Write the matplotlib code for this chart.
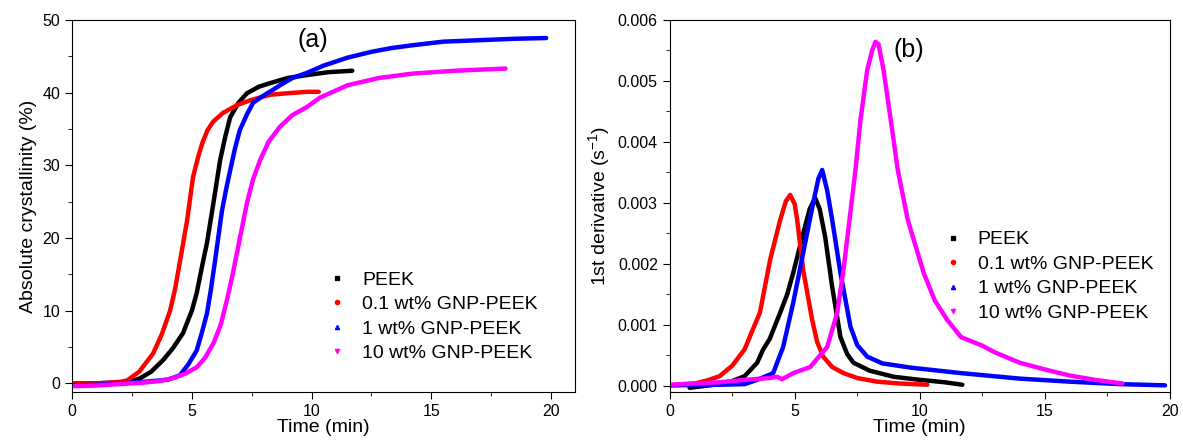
import numpy as np
import matplotlib.pyplot as plt
from matplotlib.lines import Line2D
from matplotlib.ticker import MultipleLocator

plt.rcParams['font.family'] = ['Liberation Sans', 'DejaVu Sans']
plt.rcParams['mathtext.default'] = 'regular'

labels = ['PEEK', '0.1 wt% GNP-PEEK', '1 wt% GNP-PEEK', '10 wt% GNP-PEEK']
colors = ['black', 'red', 'blue', 'magenta']
markers = ['s', 'o', '^', 'v']

# (a) absolute crystallinity (%)
t_peek = [0, 1, 2, 2.5, 2.84, 3.3, 3.8, 4.2, 4.63, 5.0, 5.2, 5.42, 5.63, 5.9, 6.18, 6.4, 6.6, 6.95,
          7.3, 7.8, 8.27, 9.0, 9.8, 10.7, 11.7]
c_peek = [0, 0, 0.1, 0.3, 0.7, 1.6, 3.2, 4.8, 6.9, 10, 12.4, 16, 19.3, 24.8, 30.7, 34, 36.6, 38.6,
          39.9, 40.8, 41.3, 42, 42.4, 42.8, 43]
t_01 = [0, 1, 1.5, 2, 2.3, 2.8, 3.38, 3.75, 4.09, 4.3, 4.51, 4.8, 5.05, 5.25, 5.43, 5.65, 5.89, 6.3,
        6.9, 7.5, 8.27, 9.0, 9.8, 10.3]
c_01 = [0, 0, 0.1, 0.2, 0.4, 1.6, 4.1, 6.8, 10, 13, 16.9, 22.4, 28.4, 31, 33, 34.8, 36, 37.2,
        38.3, 39, 39.7, 39.9, 40.1, 40.1]
t_1 = [0, 1, 2, 3, 4, 4.5, 4.85, 5.2, 5.42, 5.63, 5.8, 5.97, 6.1, 6.26, 6.45, 6.6, 6.8, 7.0, 7.3,
       7.56, 8.0, 8.4, 8.68, 9.2, 9.8, 10.5, 11.5, 12.5, 13.3, 14.2, 15.5, 17, 18.5, 19.8]
c_1 = [-0.3, -0.2, 0, 0.2, 0.5, 1.1, 2.6, 4.5, 7, 9.6, 13, 16.9, 20, 23.8, 27, 29.3, 32.3, 34.8, 37,
       38.6, 39.6, 40.4, 41, 42, 42.7, 43.7, 44.8, 45.6, 46.1, 46.5, 47, 47.2, 47.4, 47.5]
t_10 = [0, 1, 2, 3, 3.6, 4.2, 4.7, 5.2, 5.55, 5.9, 6.2, 6.46, 6.68, 6.88, 7.1, 7.3, 7.55, 7.85,
        8.2, 8.68, 9.2, 9.8, 10.35, 11.5, 12.8, 14.2, 16, 18.1]
c_10 = [-0.4, -0.3, -0.1, 0.1, 0.3, 0.7, 1.3, 2.2, 3.5, 5.5, 8, 11.4, 14.6, 17.9, 21.5, 24.8, 28,
        30.7, 33.2, 35.3, 36.9, 38, 39.3, 41.0, 42.0, 42.6, 43, 43.3]

# (b) first derivative (1/s)
d_t_peek = [0.8, 2, 2.5, 3, 3.5, 3.73, 4.0, 4.42, 4.7, 4.94, 5.34, 5.6, 5.82, 6.0, 6.22, 6.5,
            6.83, 7.1, 7.35, 8.0, 8.96, 10, 11, 11.7]
d_peek = [-0.00003, 0.00003, 0.00008, 0.00016, 0.00038, 0.00059, 0.00077, 0.0012, 0.0015,
          0.00185, 0.0025, 0.0029, 0.00308, 0.0029, 0.00244, 0.00162, 0.0008, 0.00052, 0.00038,
          0.00025, 0.00015, 0.0001, 0.00006, 0.00002]
d_t_01 = [0, 1, 1.5, 2, 2.5, 3, 3.3, 3.61, 4.02, 4.42, 4.65, 4.82, 5.0, 5.1, 5.34, 5.7, 5.9, 6.14,
          6.5, 6.95, 7.5, 8.3, 9.2, 10.3]
d_01 = [0.00001, 0.00004, 0.00009, 0.00016, 0.00033, 0.0006, 0.0009, 0.0012, 0.00207, 0.00272,
        0.00303, 0.00313, 0.00298, 0.00272, 0.0019, 0.00108, 0.00072, 0.00048, 0.00031, 0.00021,
        0.00013, 0.00007, 0.00004, 0.00002]
d_t_1 = [0, 2, 3, 3.5, 4.14, 4.54, 4.94, 5.34, 5.74, 5.95, 6.1, 6.3, 6.5, 6.83, 7.23, 7.5, 7.9,
         8.5, 9.64, 11.65, 14, 16, 18, 19.8]
d_1 = [0.00001, 0.00002, 0.00003, 0.0001, 0.00021, 0.00064, 0.00136, 0.00218, 0.003, 0.0034,
       0.00354, 0.0032, 0.00272, 0.00185, 0.00097, 0.00067, 0.00048, 0.00037, 0.0003, 0.00021,
       0.00012, 0.00007, 0.00003, 0.00001]
d_t_10 = [0, 2, 3, 4, 4.3, 4.5, 4.94, 5.62, 6.3, 6.7, 6.95, 7.19, 7.43, 7.63, 7.9, 8.1, 8.23, 8.35,
          8.55, 8.84, 9.12, 9.52, 10.16, 10.6, 11.1, 11.65, 12.5, 13, 14, 15, 16, 17, 18.1]
d_10 = [0.00002, 0.00006, 0.0001, 0.00013, 0.00015, 0.00011, 0.00021, 0.00031, 0.00064, 0.0012,
        0.0019, 0.00272, 0.00354, 0.00436, 0.00518, 0.0055, 0.00564, 0.0056, 0.00518, 0.00436,
        0.00354, 0.00272, 0.00185, 0.0014, 0.00108, 0.0008, 0.00066, 0.00055, 0.00038, 0.00027,
        0.00017, 0.0001, 0.00004]

fig = plt.figure(figsize=(11.83, 4.41), dpi=100)
ax1 = fig.add_axes([0.061, 0.111, 0.425, 0.844])
ax2 = fig.add_axes([0.566, 0.111, 0.423, 0.844])


def style(ax):
    ax.tick_params(which='both', direction='out', top=False, right=False, labelsize=11.5)
    ax.tick_params(which='major', length=5)
    ax.tick_params(which='minor', length=3)
    ax.xaxis.set_major_locator(MultipleLocator(5))
    ax.xaxis.set_minor_locator(MultipleLocator(2.5))
    ax.set_xlabel('Time (min)', fontsize=14, labelpad=0)


series_a = [(t_peek, c_peek), (t_01, c_01), (t_1, c_1), (t_10, c_10)]
for (x, y), c in zip(series_a, colors):
    ax1.plot(x, y, color=c, lw=3.2, solid_capstyle='round', solid_joinstyle='round')
ax1.set_xlim(0, 21)
ax1.set_ylim(-1.2, 50)
ax1.yaxis.set_major_locator(MultipleLocator(10))
ax1.yaxis.set_minor_locator(MultipleLocator(5))
ax1.set_ylabel('Absolute crystallinity (%)', fontsize=14, labelpad=4)
style(ax1)
ax1.text(10.06, 47.2, '(a)', fontsize=18, ha='center', va='center')

series_b = [(d_t_peek, d_peek), (d_t_01, d_01), (d_t_1, d_1), (d_t_10, d_10)]
for (x, y), c in zip(series_b, colors):
    ax2.plot(x, y, color=c, lw=3.2, solid_capstyle='round', solid_joinstyle='round')
ax2.set_xlim(0, 20)
ax2.set_ylim(-0.0001, 0.006)
ax2.yaxis.set_major_locator(MultipleLocator(0.001))
ax2.yaxis.set_minor_locator(MultipleLocator(0.0005))
ax2.yaxis.set_major_formatter(plt.FormatStrFormatter('%.3f'))
ax2.set_ylabel('1st derivative (s$^{-1}$)', fontsize=14, labelpad=4)
style(ax2)
ax2.text(9.55, 0.0055, '(b)', fontsize=18, ha='center', va='center')

handles = [Line2D([], [], color=c, marker=m, linestyle='none', markersize=3)
           for c, m in zip(colors, markers)]
leg_kw = dict(loc='upper left', frameon=False, fontsize=14, handlelength=1.0,
              handletextpad=0.8, labelspacing=0.35, borderpad=0, borderaxespad=0)
ax1.legend(handles, labels, bbox_to_anchor=(0.507, 0.325), **leg_kw)
ax2.legend(handles, labels, bbox_to_anchor=(0.546, 0.433), **leg_kw)

fig.savefig('out.png', dpi=100)
